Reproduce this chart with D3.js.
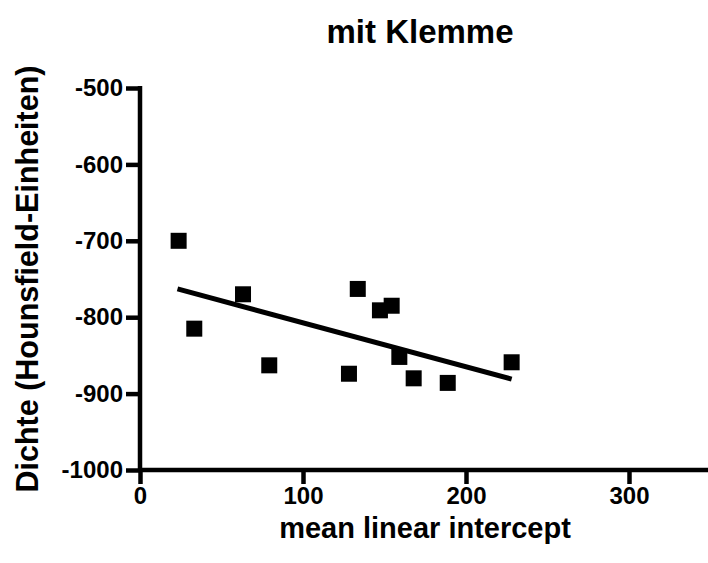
<!DOCTYPE html>
<html>
<head>
<meta charset="utf-8">
<script src="https://cdn.jsdelivr.net/npm/d3@7"></script>
<style>
  body { margin: 0; background: #fff; }
  text { font-family: "Liberation Sans", Arial, sans-serif; font-weight: bold; fill: #000; }
</style>
</head>
<body>
<div id="chart"></div>
<script>
// values
let meanLinearIntercept = [23.7, 33.3, 63.2, 79.3, 128.2, 133.6, 147.2, 154.4, 159.1, 167.9, 188.8, 228];
let dichte = [-700, -815, -770, -863, -874, -763, -791, -785, -852, -880, -886, -859];
let fitX = [23, 228];
let fitY = [-763, -881];
let xTicks = [0, 100, 200, 300];
let yTicks = [-500, -600, -700, -800, -900, -1000];

let width = 708, height = 563;
let margin = { "top": 88, "bottom": 93, "left": 140, "right": 0 };

let svg = d3.select('#chart').append('svg')
    .attr('width', width)
    .attr('height', height);

let xScale = d3.scaleLinear()
    .domain([0, 350])
    .range([margin.left, margin.left + 350 * 1.63]);
let yScale = d3.scaleLinear()
    .domain([-1000, -500])
    .range([height - margin.bottom, margin.top]);

let xAxis = d3.axisBottom(xScale)
    .tickValues(xTicks)
    .tickSize(14)
    .tickPadding(3)
    .tickFormat(d3.format('d'));
let yAxis = d3.axisLeft(yScale)
    .tickValues(yTicks)
    .tickSize(14)
    .tickPadding(3)
    .tickFormat(d3.format('d'));

let gx = svg.append('g')
    .attr('transform', 'translate(0,' + yScale(-1000) + ')')
    .call(xAxis);
let gy = svg.append('g')
    .attr('transform', 'translate(' + xScale(0) + ',0)')
    .call(yAxis);

[gx, gy].forEach(function (g) {
    g.select('.domain').attr('stroke', '#000').attr('stroke-width', 4.5);
    g.selectAll('.tick line').attr('stroke', '#000').attr('stroke-width', 4.5);
    g.selectAll('.tick text').style('font-size', '24px').attr('fill', '#000');
});
// remove outer tick stubs of the domain path
gx.select('.domain').attr('d', 'M' + xScale(0) + ',0H' + xScale(350));
gy.select('.domain').attr('d', 'M0,' + yScale(-1000) + 'V' + (yScale(-500) - 2));
// plain hyphen for negatives, as in the original
gy.selectAll('.tick text').text(function (d) { return String(d); });

// regression line
let line = d3.line()
    .x(function (d) { return xScale(d[0]); })
    .y(function (d) { return yScale(d[1]); });
svg.append('path')
    .attr('d', line(d3.zip(fitX, fitY)))
    .attr('stroke', '#000')
    .attr('stroke-width', 5)
    .attr('fill', 'none');

// squares
let sq = 16;
svg.append('g')
    .selectAll('rect')
    .data(d3.zip(meanLinearIntercept, dichte))
    .enter()
    .append('rect')
    .attr('x', function (d) { return xScale(d[0]) - sq / 2; })
    .attr('y', function (d) { return yScale(d[1]) - sq / 2; })
    .attr('width', sq)
    .attr('height', sq)
    .attr('fill', '#000');

// titles
svg.append('text')
    .attr('x', 420)
    .attr('y', 43)
    .attr('text-anchor', 'middle')
    .style('font-size', '33px')
    .text('mit Klemme');

svg.append('text')
    .attr('x', 425)
    .attr('y', 538)
    .attr('text-anchor', 'middle')
    .style('font-size', '29px')
    .text('mean linear intercept');

svg.append('text')
    .attr('transform', 'translate(38,' + ((yScale(-500) + yScale(-1000)) / 2) + ') rotate(-90)')
    .attr('text-anchor', 'middle')
    .style('font-size', '30.5px')
    .text('Dichte (Hounsfield-Einheiten)');
</script>
</body>
</html>
